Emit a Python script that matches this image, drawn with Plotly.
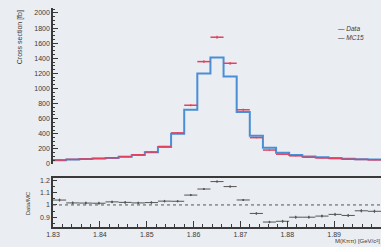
import numpy as np
import plotly.graph_objects as go

# ---- data ----
bin_edges = list(np.round(np.linspace(1.83, 1.90, 26), 4))
mc15 = [50, 60, 65, 72, 80, 95, 120, 155, 225, 400, 720, 1200, 1410, 1160, 690,
        375, 215, 150, 120, 100, 88, 78, 70, 63, 58]
data = [52, 61, 66, 73, 82, 97, 122, 158, 232, 412, 778, 1356, 1679, 1334, 718,
        349, 185, 130, 108, 90, 80, 72, 64, 60, 55]
data_err = [4, 4, 4, 4, 5, 5, 6, 7, 8, 10, 14, 18, 20, 18, 13,
            9, 7, 6, 5, 5, 4, 4, 4, 4, 4]
ratio_err = [0.012, 0.012, 0.012, 0.012, 0.011, 0.011, 0.01, 0.01, 0.01, 0.008, 0.008, 0.008, 0.008, 0.008, 0.008,
             0.01, 0.01, 0.012, 0.012, 0.012, 0.012, 0.012, 0.012, 0.013, 0.013]
y_ticks_top = [0, 200, 400, 600, 800, 1000, 1200, 1400, 1600, 1800, 2000]
y_ticks_ratio = [0.9, 1, 1.1, 1.2]
x_ticks = [1.83, 1.84, 1.85, 1.86, 1.87, 1.88, 1.89]

edges = np.array(bin_edges)
centers = (edges[:-1] + edges[1:]) / 2
half = (edges[1:] - edges[:-1]) / 2
ratio = np.array(data) / np.array(mc15)

RED = "#e2405e"
BLUE = "#4a8fd6"
AX = "#3a3a3a"
BG = "#eaedf2"
FONT = dict(family="Liberation Sans", size=7, color="#3a3a3a")

fig = go.Figure()

# MC15 step histogram
fig.add_trace(go.Scatter(
    x=list(edges), y=mc15 + [mc15[-1]], mode="lines", line_shape="hv",
    line=dict(color=BLUE, width=2), showlegend=False, xaxis="x", yaxis="y2"))

# Data points (horizontal bars)
fig.add_trace(go.Scatter(
    x=centers, y=data, mode="markers", marker=dict(size=1, color=RED),
    error_x=dict(type="data", array=half, color=RED, thickness=1.5, width=0),
    error_y=dict(type="data", array=data_err, color=RED, thickness=1.2, width=0),
    showlegend=False, xaxis="x", yaxis="y2"))

# Ratio
fig.add_trace(go.Scatter(
    x=centers, y=ratio, mode="markers", marker=dict(size=2, color="#555555"),
    error_x=dict(type="data", array=half, color="#555555", thickness=1, width=0),
    error_y=dict(type="data", array=ratio_err, color="#555555", thickness=1, width=0),
    showlegend=False, xaxis="x", yaxis="y"))

axis_common = dict(showline=True, linecolor=AX, linewidth=1.5, mirror=True,
                   ticks="inside", tickcolor=AX, showgrid=False, zeroline=False,
                   tickfont=FONT, automargin=False)

fig.update_layout(
    width=381, height=247,
    margin=dict(l=53, r=0, t=8, b=20, autoexpand=False),
    paper_bgcolor=BG, plot_bgcolor=BG,
    font=FONT,
    xaxis=dict(range=[1.83, 1.90], tickvals=x_ticks, ticklen=6,
               tickformat=".2f",
               minor=dict(dtick=0.002, tick0=1.83, ticks="inside", ticklen=3, tickcolor=AX),
               **axis_common),
    xaxis2=dict(range=[1.83, 1.90], tickvals=x_ticks, ticklen=6, matches="x",
                showticklabels=False, anchor="y2",
                minor=dict(dtick=0.002, tick0=1.83, ticks="inside", ticklen=3, tickcolor=AX),
                **axis_common),
    yaxis=dict(domain=[0, 0.2237], range=[0.82, 1.22], tickvals=y_ticks_ratio,
               ticklen=4, minor=dict(dtick=0.05, ticks="inside", ticklen=2, tickcolor=AX),
               **axis_common),
    yaxis2=dict(domain=[0.2877, 1], range=[0, 2066], tickvals=y_ticks_top,
                ticklen=5, minor=dict(dtick=50, ticks="inside", ticklen=2, tickcolor=AX),
                anchor="x", **axis_common),
    showlegend=False,
)

# dotted line at ratio = 1
fig.add_shape(type="line", xref="x", yref="y", x0=1.83, x1=1.90, y0=1, y1=1,
              line=dict(color="#555555", width=1, dash="dot"))

# Titles
fig.add_annotation(text="Cross section [fb]", xref="paper", yref="paper",
                   x=-0.1, y=1.0, xanchor="center", yanchor="top", textangle=-90,
                   showarrow=False, font=dict(family="Liberation Sans", size=7, color=AX))
fig.add_annotation(text="Data/MC", xref="paper", yref="paper",
                   x=-0.075, y=0.11, xanchor="center", yanchor="middle", textangle=-90,
                   showarrow=False, font=dict(family="Liberation Sans", size=6, color=AX))
fig.add_annotation(text="M(Kππ) [GeV/c²]", xref="paper", yref="paper",
                   x=1.0, y=-0.062, xanchor="right", yanchor="middle",
                   showarrow=False, borderpad=0,
                   font=dict(family="Liberation Sans", size=6, color=AX))

# Legend (text entries)
fig.add_annotation(text="<i>— Data</i>", xref="paper", yref="paper",
                   x=0.86, y=0.905, xanchor="left", yanchor="middle",
                   showarrow=False, font=dict(family="Liberation Sans", size=6.5, color=AX))
fig.add_annotation(text="<i>— MC15</i>", xref="paper", yref="paper",
                   x=0.86, y=0.865, xanchor="left", yanchor="middle",
                   showarrow=False, font=dict(family="Liberation Sans", size=6.5, color=AX))

fig.write_html("out.html", config={"displayModeBar": False},
               post_script="document.body.style.margin='0';document.body.style.background='#eaedf2';")
